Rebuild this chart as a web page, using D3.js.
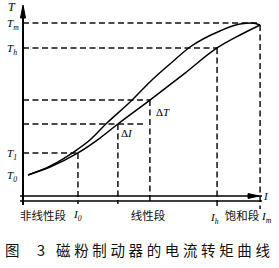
<!DOCTYPE html>
<html><head><meta charset="utf-8">
<script src="https://cdn.jsdelivr.net/npm/d3@7"></script>
<style>body{margin:0;background:#fff}svg{display:block}</style>
</head><body>
<script>
// Data (current I vs torque T, arbitrary units)
const lowerI = [0.21, 1.13, 2.30, 3.22, 3.97, 5.31, 6.78, 8.12, 9.08, 9.92];
const lowerT = [1.35, 1.76, 2.49, 3.26, 3.99, 5.23, 6.63, 7.93, 8.60, 9.12];
const upperI = [0.21, 1.13, 2.18, 2.80, 3.51, 4.48, 5.31, 6.15, 6.99, 8.24, 9.08, 9.58, 9.92];
const upperT = [1.35, 1.81, 2.59, 3.16, 4.04, 5.13, 6.17, 7.10, 7.98, 8.81, 9.17, 9.22, 9.12];
const iMarks = [2.30, 3.97, 5.31, 8.12, 9.92];   // I0, I1, I2, Ih, Im
const tMarks = [9.22, 7.93, 5.23, 3.99, 2.49];   // Tm, Th, T(I2), T(I1), T1
const T0 = 1.35;
const segLabels = ["非线性段", "线性段", "饱和段"];
const captionNum = "图 3";
const captionText = "磁粉制动器的电流转矩曲线";

const W = 279, H = 268;
const svg = d3.select("body").append("svg").attr("width", W).attr("height", H);
const x = d3.scaleLinear().domain([0, 10]).range([23, 262]);
const y = d3.scaleLinear().domain([0, 10]).range([201, 8]);

const serif = "'Liberation Serif','DejaVu Serif',serif";
const cjk = "'Noto Sans CJK SC',sans-serif";

// Dashed guides
const dash = "6,3.5";
const g = svg.append("g").attr("stroke", "#111").attr("stroke-width", 1.5).attr("stroke-dasharray", dash).attr("fill", "none");
const hEnds = [9.92, 8.12, 5.31, 5.15, 2.30];
tMarks.forEach((t, i) => {
  g.append("line").attr("x1", x(0)).attr("x2", x(hEnds[i])).attr("y1", y(t)).attr("y2", y(t));
});
const vTops = [2.49, 3.99, 5.23, 7.93, 9.12];
iMarks.forEach((v, i) => {
  g.append("line").attr("x1", x(v)).attr("x2", x(v)).attr("y1", y(vTops[i])).attr("y2", y(0) + (i >= 3 ? 8 : 3));
});

// Axes
const ax = svg.append("g").attr("stroke", "#000").attr("fill", "none");
ax.append("line").attr("x1", x(0)).attr("x2", x(0)).attr("y1", y(0) + 4).attr("y2", 7).attr("stroke-width", 2);
ax.append("path").attr("d", `M${x(0)-2.5},${18} L${x(0)},${5} L${x(0)+2.5},${18} Z`).attr("fill", "#000");
ax.append("line").attr("x1", x(0) - 3).attr("x2", 262).attr("y1", y(0) - 5).attr("y2", y(0) - 5).attr("stroke-width", 1.5);
ax.append("line").attr("x1", x(0) - 3).attr("x2", 262).attr("y1", y(0)).attr("y2", y(0)).attr("stroke-width", 1.5);
ax.append("path").attr("d", `M${248},${y(0)-7.5} L${259},${y(0)-5} L${248},${y(0)-2.5} Z`).attr("fill", "#000");

// Curves
const line = d3.line().x(d => x(d[0])).y(d => y(d[1])).curve(d3.curveMonotoneX);
svg.append("path").attr("d", line(lowerI.map((v, i) => [v, lowerT[i]])))
  .attr("fill", "none").attr("stroke", "#000").attr("stroke-width", 1.5);
svg.append("path").attr("d", line(upperI.map((v, i) => [v, upperT[i]])))
  .attr("fill", "none").attr("stroke", "#000").attr("stroke-width", 1.5);

// Labels
function sym(px, py, main, sub, size, anchor) {
  const t = svg.append("text").attr("x", px).attr("y", py).attr("font-family", serif)
    .attr("font-style", "italic").attr("font-size", size).attr("text-anchor", anchor || "start");
  t.append("tspan").text(main);
  if (sub) t.append("tspan").attr("dy", 3).attr("font-size", size * 0.7).text(sub);
  return t;
}
sym(8, 11, "T", null, 12);
sym(7, y(tMarks[0]) + 4, "T", "m", 11);
sym(7, y(tMarks[1]) + 4, "T", "h", 11);
sym(7, y(tMarks[4]) + 4, "T", "1", 11);
sym(7, y(T0) + 4, "T", "0", 11);
sym(264, y(0) - 1, "I", null, 11);
sym(x(iMarks[0]) - 4, 218, "I", "0", 11);
sym(x(iMarks[3]) - 6, 221, "I", "h", 11);
sym(262, 220, "I", "m", 11);
svg.append("text").attr("x", 121).attr("y", 137).attr("font-family", serif).attr("font-size", 11)
  .text("Δ").append("tspan").attr("font-style", "italic").text("I");
svg.append("text").attr("x", 156).attr("y", 116).attr("font-family", serif).attr("font-size", 11)
  .text("Δ").append("tspan").attr("font-style", "italic").text("T");

const segX = [20, 148, 242];
const segAnchor = ["start", "middle", "middle"];
segLabels.forEach((s, i) => {
  svg.append("text").attr("x", segX[i]).attr("y", 220).attr("font-family", cjk).attr("font-size", 11.5)
    .attr("text-anchor", segAnchor[i]).attr("fill", "#111").text(s);
});

svg.append("text").attr("x", 5).attr("y", 256).attr("font-family", cjk).attr("font-size", 14.5)
  .attr("fill", "#111").attr("textLength", 40).attr("lengthAdjust", "spacing").text(captionNum);
svg.append("text").attr("x", 56).attr("y", 256).attr("font-family", cjk).attr("font-size", 14.5)
  .attr("fill", "#111").attr("textLength", 214).attr("lengthAdjust", "spacing").text(captionText);
</script>
</body></html>
